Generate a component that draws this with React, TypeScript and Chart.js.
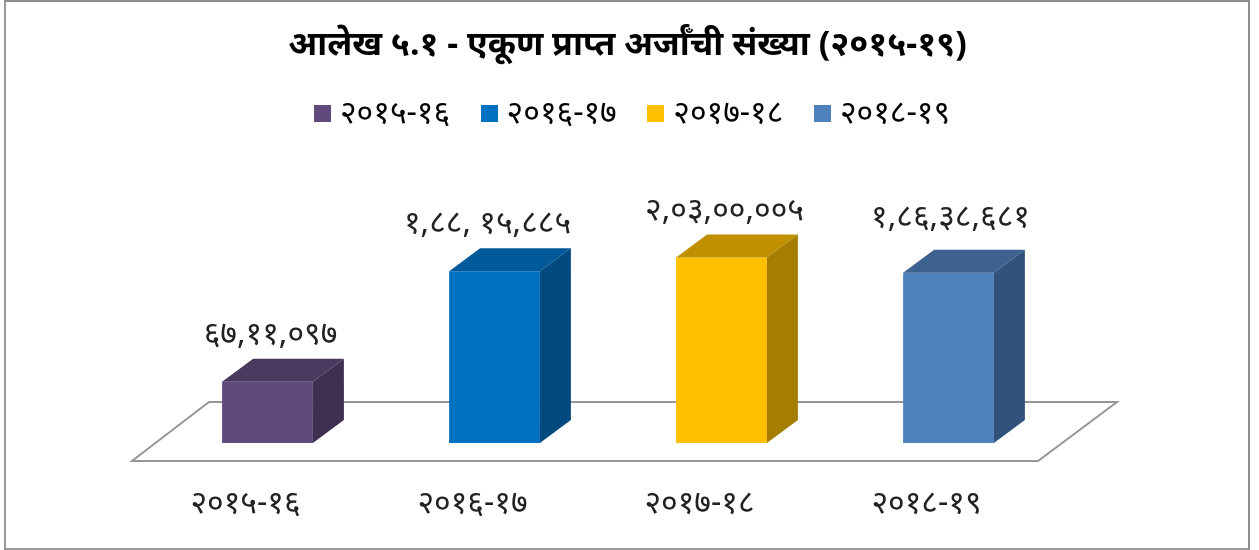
import React, { useEffect, useRef } from "react";
import { Chart, registerables } from "chart.js";

Chart.register(...registerables);

const categories = ["२०१५-१६", "२०१६-१७", "२०१७-१८", "२०१८-१९"];
const values = [6711097, 18815885, 20300005, 18638681];
const valueLabels = ["६७,११,०९७", "१,८८, १५,८८५", "२,०३,००,००५", "१,८६,३८,६८१"];
const titleText = "आलेख ५.१ - एकूण प्राप्त अर्जाँची संख्या (२०१५-१९)";
const frontColors = ["#604A7B", "#0070C0", "#FFC000", "#4F81BD"];
const topColors = ["#4B3A60", "#005A9A", "#C09000", "#3E6290"];
const sideColors = ["#3F3052", "#004A80", "#A57D00", "#31527A"];

const FONT = '"Noto Sans", "Lato", sans-serif';
const TEXT_COLOR = "#222";

function swatch(color: string) {
  const c = document.createElement("canvas");
  c.width = 17;
  c.height = 17;
  const g = c.getContext("2d")!;
  g.fillStyle = color;
  g.fillRect(0, 0, 17, 17);
  return c;
}

const bar3d = {
  id: "bar3d",
  afterLayout(chart: any) {
    chart.legend.left += 8;
    chart.legend.right += 8;
  },
  beforeDatasetsDraw(chart: any) {
    const { ctx, scales } = chart;
    const y0 = scales.y.getPixelForValue(0);
    const left = scales.x.left;
    const right = scales.x.right;
    ctx.save();
    ctx.beginPath();
    ctx.moveTo(left - 22, y0 + 18);
    ctx.lineTo(right - 24, y0 + 18);
    ctx.lineTo(right + 55, y0 - 41);
    ctx.lineTo(left + 55, y0 - 41);
    ctx.closePath();
    ctx.strokeStyle = "#969696";
    ctx.lineWidth = 2;
    ctx.stroke();
    ctx.restore();
  },
  afterDatasetsDraw(chart: any) {
    const { ctx, scales } = chart;
    const y0 = scales.y.getPixelForValue(0);
    const dx = 31;
    const dy = 23;
    const meta = chart.getDatasetMeta(0);
    ctx.save();
    meta.data.forEach((bar: any, i: number) => {
      const { x, y, width } = bar.getProps(["x", "y", "width"], true);
      const l = x - width / 2;
      const r = x + width / 2;
      ctx.fillStyle = topColors[i];
      ctx.beginPath();
      ctx.moveTo(l, y);
      ctx.lineTo(l + dx, y - dy);
      ctx.lineTo(r + dx, y - dy);
      ctx.lineTo(r, y);
      ctx.closePath();
      ctx.fill();
      ctx.fillStyle = sideColors[i];
      ctx.beginPath();
      ctx.moveTo(r, y);
      ctx.lineTo(r + dx, y - dy);
      ctx.lineTo(r + dx, y0 - dy);
      ctx.lineTo(r, y0);
      ctx.closePath();
      ctx.fill();
      ctx.fillStyle = TEXT_COLOR;
      ctx.font = `32px ${FONT}`;
      ctx.textAlign = "center";
      ctx.textBaseline = "middle";
      const nudgeX = [3, -7, 3, 2][i];
      const nudgeY = [0, 0, 0, -8][i];
      ctx.fillText(valueLabels[i], x + nudgeX, y - dy - 24 + nudgeY);
    });
    ctx.restore();
  },
};

export default function App() {
  const ref = useRef<HTMLCanvasElement>(null);
  useEffect(() => {
    const chart = new Chart(ref.current!, {
      type: "bar",
      data: {
        labels: categories,
        datasets: [
          {
            data: values,
            backgroundColor: frontColors,
            barPercentage: 0.4,
            categoryPercentage: 1,
          },
        ],
      },
      options: {
        animation: false,
        responsive: false,
        layout: { padding: { left: 0, right: 4, top: 0, bottom: 0 } },
        plugins: {
          tooltip: { enabled: false },
          title: {
            display: true,
            text: titleText,
            color: "#000",
            font: { family: FONT, size: 34, weight: "bold" },
            padding: { top: 25, bottom: -5.5 },
          },
          legend: {
            display: true,
            position: "top",
            labels: {
              usePointStyle: true,
              boxWidth: 3,
              boxHeight: 3,
              padding: 37.5,
              color: TEXT_COLOR,
              font: { family: FONT, size: 32 },
              generateLabels: () =>
                categories.map((c, i) => ({
                  text: c,
                  fillStyle: frontColors[i],
                  strokeStyle: frontColors[i],
                  pointStyle: swatch(frontColors[i]),
                  lineWidth: 0,
                  datasetIndex: 0,
                  index: i,
                })),
            },
          },
        },
        scales: {
          x: {
            grid: { display: false },
            border: { display: false },
            afterFit: (s: any) => {
              s.height = 107;
            },
            ticks: {
              color: TEXT_COLOR,
              padding: 34,
              labelOffset: -22,
              maxRotation: 0,
              font: { family: FONT, size: 32 },
            },
          },
          y: {
            min: 0,
            max: 33200000,
            grid: { display: false },
            border: { display: false },
            ticks: { display: false },
            afterFit: (s: any) => {
              s.width = 154;
            },
          },
          yRight: {
            position: "right",
            min: 0,
            max: 33200000,
            grid: { display: false },
            border: { display: false },
            ticks: { display: false },
            afterFit: (s: any) => {
              s.width = 193;
            },
          },
        },
      },
      plugins: [bar3d],
    } as any);
    return () => chart.destroy();
  }, []);
  return (
    <div
      style={{
        position: "fixed",
        left: 0,
        top: 0,
        width: 1259,
        height: 550,
        background: "#fff",
      }}
    >
      <div
        style={{
          position: "absolute",
          left: 4,
          top: 0,
          width: 1242,
          height: 546,
          borderLeft: "2px solid #999",
          borderRight: "2px solid #8c8c8c",
          borderBottom: "2px solid #999",
          borderTop: "2px solid #8c8c8c",
          boxSizing: "content-box",
        }}
      />
      <canvas ref={ref} width={1259} height={550} style={{ position: "absolute", left: 0, top: 0 }} />
    </div>
  );
}
